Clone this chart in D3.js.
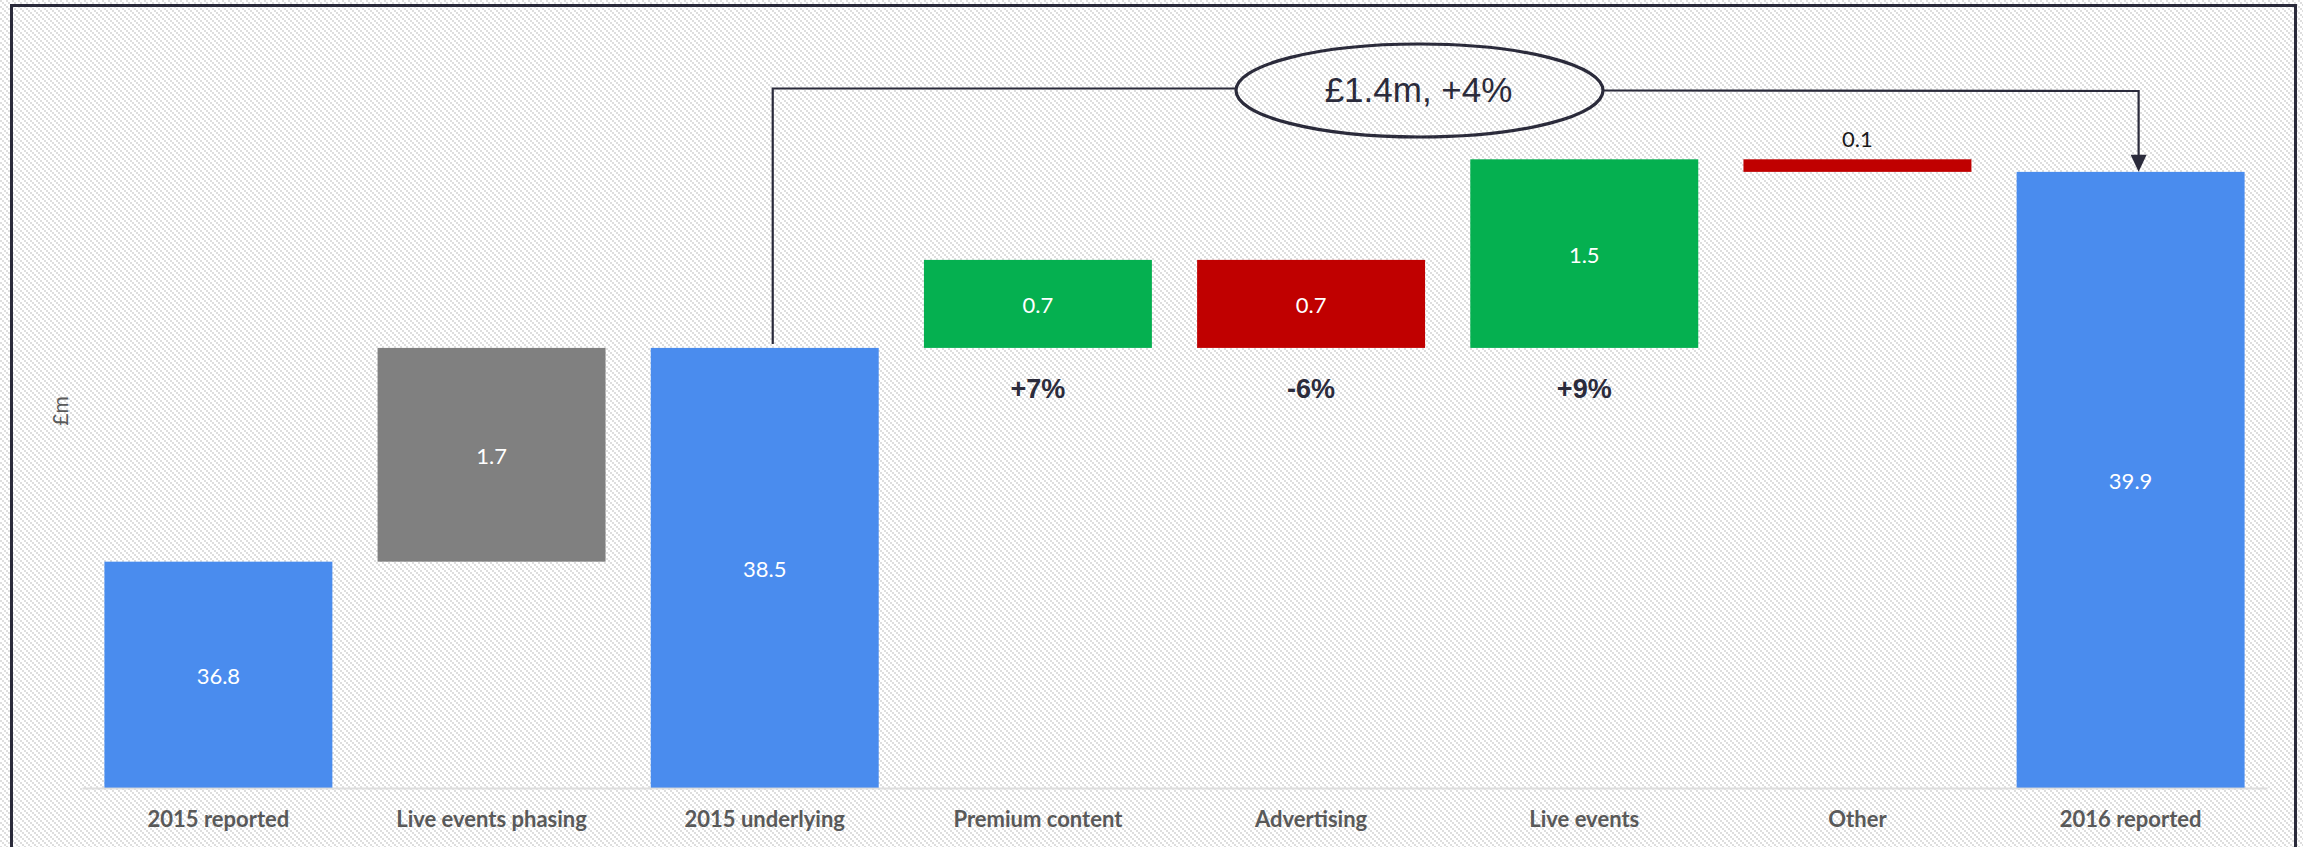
<!DOCTYPE html>
<html>
<head>
<meta charset="utf-8">
<script src="https://cdn.jsdelivr.net/npm/d3@7"></script>
<style>
  html, body { margin: 0; padding: 0; background: #fff; overflow: hidden; }
  svg { display: block; }
</style>
</head>
<body>
<svg id="chart" width="2303" height="847"></svg>
<script>
// ---- data ----
const categories = ["2015 reported", "Live events phasing", "2015 underlying", "Premium content", "Advertising", "Live events", "Other", "2016 reported"];
const values = [36.8, 1.7, 38.5, 0.7, -0.7, 1.5, -0.1, 39.9];
const kinds = ["total", "adjust", "total", "up", "down", "up", "down", "total"];
const valueLabels = ["36.8", "1.7", "38.5", "0.7", "0.7", "1.5", "0.1", "39.9"];
const pctLabels = [null, null, null, "+7%", "-6%", "+9%", null, null];
const yDomain = [35, 40];
const yAxisTitle = "£m";
const bridgeLabel = "£1.4m, +4%";

// ---- layout / style ----
const W = 2303, H = 847;
const colors = { total: "#4a8cee", adjust: "#808080", up: "#05b050", down: "#c00000" };
const ink = "#2b2b3b";

const svg = d3.select("#chart");
const defs = svg.append("defs");
const pat = defs.append("pattern").attr("id", "hatch").attr("patternUnits", "userSpaceOnUse")
  .attr("width", 6).attr("height", 6);
pat.append("rect").attr("width", 6).attr("height", 6).attr("fill", "#ffffff");
[[0,0],[2,2],[4,4]].forEach(([a,b]) => pat.append("rect").attr("x", a).attr("y", b).attr("width", 2).attr("height", 2).attr("fill", "#dedede"));

svg.append("rect").attr("width", W).attr("height", H).attr("fill", "url(#hatch)");
svg.append("rect").attr("x", 11.5).attr("y", 5.5).attr("width", 2284).attr("height", 900)
  .attr("fill", "none").attr("stroke", ink).attr("stroke-width", 3);

const x = d3.scaleBand().domain(categories).range([82, 2267]).paddingInner(0.1655).paddingOuter(0.082);
const y = d3.scaleLinear().domain(yDomain).range([788, 159.3]);

// compute waterfall segments
let running = yDomain[0];
const bars = categories.map((c, i) => {
  let lo, hi;
  if (kinds[i] === "total") { lo = yDomain[0]; hi = values[i]; running = values[i]; }
  else { const s = running; const e = running + values[i]; lo = Math.min(s, e); hi = Math.max(s, e); running = e; }
  return { c, i, lo, hi, kind: kinds[i] };
});
const barH = d => y(d.lo) - y(d.hi);

const g = svg.append("g");
g.selectAll("rect.bar").data(bars).enter().append("rect").attr("class", "bar")
  .attr("x", d => x(d.c)).attr("width", x.bandwidth())
  .attr("y", d => y(d.hi)).attr("height", barH)
  .attr("fill", d => colors[d.kind]);

// axis baseline
const xAxis = d3.axisBottom(x).tickSize(0).tickPadding(0);
const ax = svg.append("g").attr("transform", `translate(0,${y(yDomain[0])})`).call(xAxis);
ax.select(".domain").attr("stroke", "#d9d9d9").attr("stroke-width", 2).attr("opacity", 0.85);
ax.selectAll(".tick text").attr("dy", 0).attr("y", 39)
  .attr("font-family", "Lato, 'Open Sans', sans-serif").attr("font-weight", 700)
  .attr("font-size", 22).attr("fill", "#595959");

// value labels
g.selectAll("text.val").data(bars).enter().append("text").attr("class", "val")
  .attr("x", d => x(d.c) + x.bandwidth() / 2)
  .attr("y", d => barH(d) < 30 ? y(d.hi) - 12 : (y(d.hi) + y(d.lo)) / 2 + 9)
  .attr("text-anchor", "middle")
  .attr("font-family", "Lato, 'Open Sans', sans-serif").attr("font-size", 22)
  .attr("fill", d => barH(d) < 30 ? "#1a1a1a" : "#ffffff")
  .text(d => valueLabels[d.i]);

// percentage labels
g.selectAll("text.pct").data(bars.filter(d => pctLabels[d.i])).enter().append("text").attr("class", "pct")
  .attr("x", d => x(d.c) + x.bandwidth() / 2)
  .attr("y", d => y(d.lo) + 50)
  .attr("text-anchor", "middle")
  .attr("font-family", "'Liberation Sans Narrow', 'Liberation Sans', Arial, sans-serif")
  .attr("font-weight", 700).attr("font-size", 27).attr("fill", ink)
  .text(d => pctLabels[d.i]);

// y axis title
svg.append("text").attr("transform", "translate(68,411) rotate(-90)")
  .attr("text-anchor", "middle").attr("font-family", "Lato, 'Open Sans', sans-serif")
  .attr("font-size", 21).attr("fill", "#595959").text(yAxisTitle);

// bridge annotation
const startCat = categories[2], endCat = categories[7];
const xL = x(startCat) + x.bandwidth() / 2 + 8;
const xR = x(endCat) + x.bandwidth() / 2 + 8;
const ecx = 1419.5, ecy = 90.5, erx = 183.5, ery = 46.5;
svg.append("path")
  .attr("d", `M${xL},${y(values[2]) - 4} L${xL},88.5 L${ecx - erx},88.5`)
  .attr("fill", "none").attr("stroke", ink).attr("stroke-width", 2.2);
svg.append("path")
  .attr("d", `M${ecx + erx},90.5 L${xR},91 L${xR},${y(values[7]) - 15}`)
  .attr("fill", "none").attr("stroke", ink).attr("stroke-width", 2.2);
svg.append("path")
  .attr("d", `M${xR - 8},${y(values[7]) - 17} L${xR + 8},${y(values[7]) - 17} L${xR},${y(values[7])} Z`)
  .attr("fill", ink);
svg.append("ellipse").attr("cx", ecx).attr("cy", ecy).attr("rx", erx).attr("ry", ery)
  .attr("fill", "none").attr("stroke", ink).attr("stroke-width", 3.2);
svg.append("text").attr("x", ecx - 1).attr("y", 102).attr("text-anchor", "middle")
  .attr("font-family", "'Liberation Sans', Arial, sans-serif").attr("font-size", 35)
  .attr("fill", ink).text(bridgeLabel);
</script>
</body>
</html>
